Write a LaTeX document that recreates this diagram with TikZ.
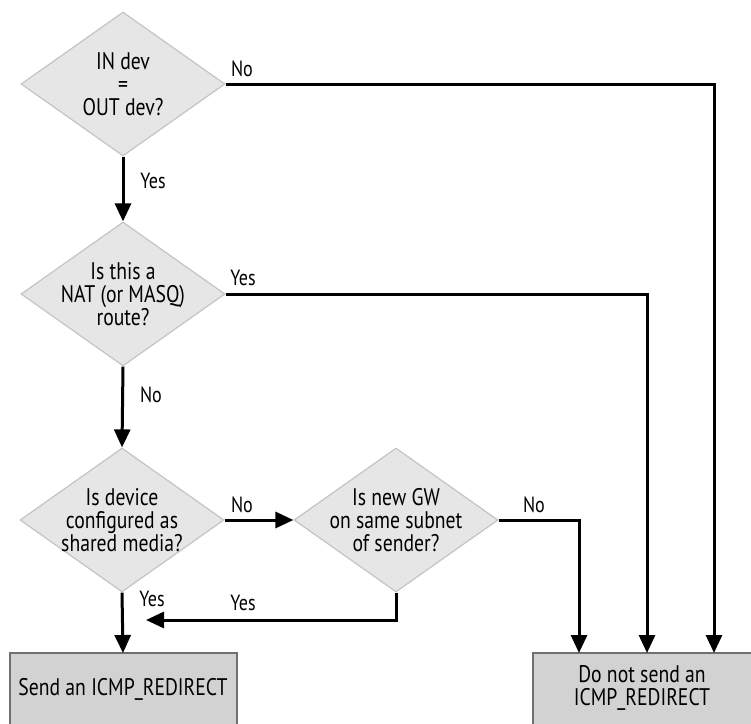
\documentclass[tikz,border=0pt]{standalone}
\usepackage{fontspec}
\setmainfont[FakeStretch=0.82]{PT Sans}
\usetikzlibrary{shapes.geometric,arrows.meta}
\definecolor{dfill}{HTML}{E6E6E6}
\definecolor{dline}{HTML}{C4C4C4}
\definecolor{bfill}{HTML}{D2D2D2}
\definecolor{bline}{HTML}{707070}
\tikzset{
  dec/.style={diamond, draw=dline, line width=1.2pt, fill=dfill, inner sep=0pt,
    minimum width=204pt, minimum height=144pt},
  txt/.style={align=center, font=\fontsize{24}{23}\selectfont, inner sep=0pt},
  lbl/.style={font=\fontsize{22}{22}\selectfont, inner sep=0pt},
  endbox/.style={draw=bline, line width=1.5pt, fill=bfill},
  flow/.style={line width=3pt, -{Triangle[width=16pt,length=18pt]}},
}
\begin{document}
\begin{tikzpicture}[x=1pt,y=-1pt]
\useasboundingbox (0,0) rectangle (751,723);
\node[dec] (d1) at (123,84) {};
\node[txt] (d1t) at (123,84) {IN dev\\=\\OUT dev?};
\node[dec] (d2) at (123,294) {};
\node[txt] (d2t) at (123,294) {Is this a\\NAT (or MASQ)\\route?};
\node[dec] (d3) at (122,520) {};
\node[txt] (d3t) at (122,520) {Is device\\configured as\\shared media?};
\node[dec] (d4) at (396,520) {};
\node[txt] (d4t) at (396,520) {Is new GW\\on same subnet\\of sender?};
\path[endbox] (10,653) rectangle (237,735);
\coordinate (b1) at (123,653);
\node[txt] (b1t) at (123,689) {Send an ICMP\_REDIRECT};
\path[endbox] (533,653) rectangle (758,735);
\node[txt] (b2t) at (642,688) {Do not send an\\ICMP\_REDIRECT};
\coordinate (b2a) at (579,653);
\coordinate (b2b) at (647,653);
\coordinate (b2c) at (714,653);
\coordinate (ret) at (146,620);
\draw[flow] (d1.south) -- (d2.north);
\draw[flow] (d1.east) -| (b2c);
\draw[flow] (d2.east) -| (b2b);
\draw[flow] (d2.south) -- (d3.north);
\draw[flow] (d3.east) -- (d4.west);
\draw[flow] (d3.south) -- (b1);
\draw[flow] (d4.east) -| (b2a);
\draw[flow] (d4.south) |- (ret);
\node[lbl] (l1) at (242,69) {No};
\node[lbl] (l2) at (153,181) {Yes};
\node[lbl] (l3) at (243,278) {Yes};
\node[lbl] (l4) at (151,395) {No};
\node[lbl] (l5) at (242,505) {No};
\node[lbl] (l6) at (152,599) {Yes};
\node[lbl] (l7) at (243,603) {Yes};
\node[lbl] (l8) at (534,505) {No};
\end{tikzpicture}
\end{document}
